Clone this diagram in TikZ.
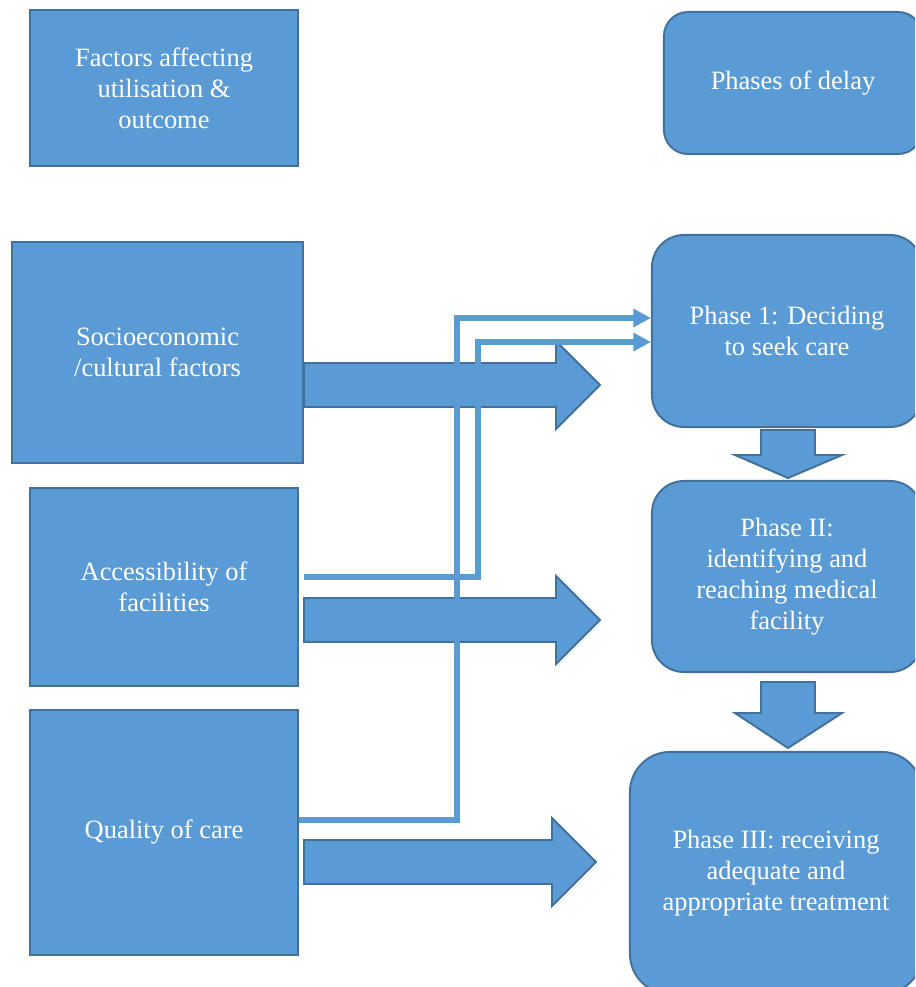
\documentclass[tikz,border=0pt]{standalone}
\usepackage{fontspec}
\setmainfont{Liberation Serif}
\usetikzlibrary{arrows.meta, calc, positioning}

\definecolor{boxblue}{HTML}{5B9BD5}
\definecolor{edgeblue}{HTML}{41719C}

\tikzset{
  factorbox/.style={draw=edgeblue, fill=boxblue, line width=1.4pt, text=white, align=center},
  phasebox/.style={factorbox, rounded corners=#1},
  blockarrow/.style={draw=edgeblue, fill=boxblue, line width=1.4pt, line join=miter},
  link/.style={draw=boxblue, line width=3.6pt, -{Triangle[length=12.5pt, width=12.5pt]}}
}

\begin{document}
\begin{tikzpicture}[x=0.025cm, y=-0.025cm, font=\fontsize{18.8}{22}\selectfont]
  \useasboundingbox (0,0) rectangle (915,987);
  \clip (0,0) rectangle (915,987);

  % headings
  \node[factorbox, minimum width=6.7cm, minimum height=3.9cm] (factors) at (164,88) {Factors affecting\\utilisation \&\\outcome};
  \node[phasebox=0.6cm, minimum width=6.45cm, minimum height=3.55cm] (delay) at (793,83) {Phases of delay};

  % factors
  \node[factorbox, minimum width=7.275cm, minimum height=5.525cm] (socio) at (157.5,352.5) {Socioeconomic\\/cultural factors};
  \node[factorbox, minimum width=6.7cm, minimum height=4.95cm] (access) at (164,587) {Accessibility of\\facilities};
  \node[factorbox, minimum width=6.7cm, minimum height=6.125cm] (quality) at (164,832.5) {Quality of care};

  % phases
  \node[phasebox=0.8cm, minimum width=6.75cm, minimum height=4.8cm] (phaseI) at (787,331) {Phase 1: Deciding\\to seek care};
  \node[phasebox=0.8cm, minimum width=6.75cm, minimum height=4.775cm] (phaseII) at (787,576.5) {Phase II:\\identifying and\\reaching medical\\facility};
  \node[phasebox=1cm, minimum width=7.3cm, minimum height=6.05cm] (phaseIII) at (776,873) {Phase III: receiving\\adequate and\\appropriate treatment};

  % block arrows to the right
  \foreach \src/\y/\gap/\tip in {socio/385/0/600, access/620/5/600, quality/862/5/596} {
    \coordinate (tail) at ($(\src.east |- 0,\y)+(\gap,0)$);
    \coordinate (head) at (\tip,\y);
    \draw[blockarrow] ($(tail)+(0,-22)$) -- ($(head)+(-44,-22)$) -- ($(head)+(-44,-44)$) -- (head)
      -- ($(head)+(-44,44)$) -- ($(head)+(-44,22)$) -- ($(tail)+(0,22)$) -- cycle;
  }

  % block arrows downwards
  \foreach \top/\base/\tip in {430/455/478, 682/713/748} {
    \draw[blockarrow] (761,\top) -- (815,\top) -- (815,\base) -- (842,\base) -- (788,\tip)
      -- (735,\base) -- (761,\base) -- cycle;
  }

  % thin links into phase 1
  \draw[link] (quality.east |- 0,820) -| (457,318) -- (phaseI.west |- 0,318);
  \draw[link] ($(access.east |- 0,577)+(5,0)$) -| (478,342) -- (phaseI.west |- 0,342);
\end{tikzpicture}
\end{document}
